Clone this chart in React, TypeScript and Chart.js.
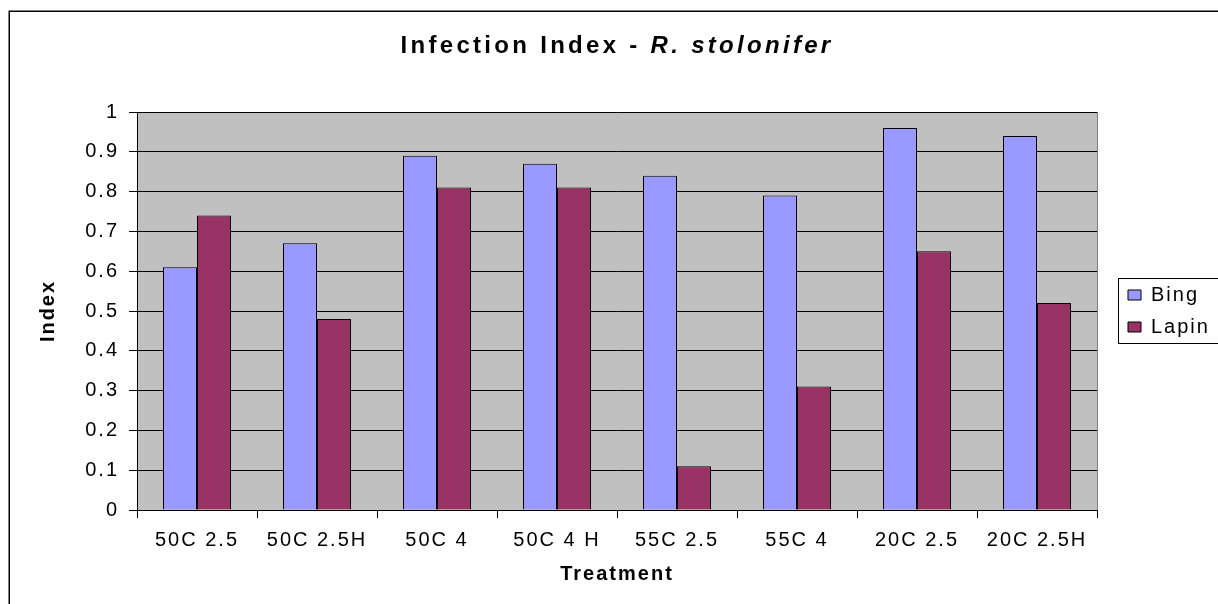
import React, { useEffect, useRef } from 'react';
import { Chart, registerables } from 'chart.js';

Chart.register(...registerables);

const FONT = "'Liberation Sans', Arial, Helvetica, sans-serif";

const TITLE_MAIN = 'Infection Index - ';
const TITLE_ITALIC = 'R. stolonifer';
const X_TITLE = 'Treatment';
const Y_TITLE = 'Index';

const CATEGORIES = ['50C 2.5', '50C 2.5H', '50C 4', '50C 4 H', '55C 2.5', '55C 4', '20C 2.5', '20C 2.5H'];
const SERIES_NAMES = ['Bing', 'Lapin'];
const BING = [0.61, 0.67, 0.89, 0.87, 0.84, 0.79, 0.96, 0.94];
const LAPIN = [0.74, 0.48, 0.81, 0.81, 0.11, 0.31, 0.65, 0.52];
const SERIES_COLORS = ['#9999FF', '#993366'];

const Y_TICKS = [0, 0.1, 0.2, 0.3, 0.4, 0.5, 0.6, 0.7, 0.8, 0.9, 1];
const Y_TICK_LABELS = ['0', '0.1', '0.2', '0.3', '0.4', '0.5', '0.6', '0.7', '0.8', '0.9', '1'];

const W = 1218;
const H = 604;
const SPACING = '2px';

const excelPlugin = {
  id: 'excelLook',
  beforeUpdate(chart: any) {
    chart.ctx.letterSpacing = SPACING;
  },
  afterLayout(chart: any) {
    const lg = chart.legend;
    const a = chart.chartArea;
    if (!lg) return;
    lg.left = a.right + 19;
    lg.right = chart.width;
    lg.width = lg.right - lg.left;
    lg.top = a.top;
    lg.bottom = a.bottom;
    lg.height = a.bottom - a.top;
  },
  beforeDraw(chart: any) {
    const { ctx, width, height, chartArea: a } = chart;
    ctx.letterSpacing = SPACING;
    ctx.save();
    ctx.fillStyle = '#ffffff';
    ctx.fillRect(0, 0, width, height);
    ctx.fillStyle = '#C0C0C0';
    ctx.fillRect(a.left, a.top, a.right - a.left, a.bottom - a.top);
    ctx.strokeStyle = '#808080';
    ctx.lineWidth = 1;
    ctx.strokeRect(a.left + 0.5, a.top + 0.5, a.right - a.left, a.bottom - a.top);
    ctx.restore();
  },
  afterDraw(chart: any) {
    const { ctx, width, height, chartArea: a } = chart;
    ctx.save();
    // outer chart border
    ctx.strokeStyle = '#000';
    ctx.lineWidth = 1.5;
    ctx.strokeRect(9.25, 11.25, width + 10, height + 10);
    // legend border
    const lg = chart.legend;
    if (lg && lg.legendHitBoxes && lg.legendHitBoxes.length) {
      const hb = lg.legendHitBoxes;
      const first = hb[0];
      const last = hb[hb.length - 1];
      const left = Math.round(first.left - 10) + 0.5;
      const top = Math.round(first.top - 7) + 0.5;
      const bottom = Math.round(last.top + last.height + 6) + 0.5;
      ctx.lineWidth = 1;
      ctx.strokeStyle = '#000';
      ctx.strokeRect(left, top, width + 10 - left, bottom - top);
    }
    // mixed-style title
    ctx.letterSpacing = '3.3px';
    ctx.fillStyle = '#000';
    ctx.textBaseline = 'middle';
    ctx.textAlign = 'left';
    const f1 = `bold 24px ${FONT}`;
    const f2 = `italic bold 24px ${FONT}`;
    ctx.font = f1;
    const w1 = ctx.measureText(TITLE_MAIN).width;
    ctx.font = f2;
    const w2 = ctx.measureText(TITLE_ITALIC).width;
    const cx = (a.left + a.right) / 2;
    const x0 = cx - (w1 + w2) / 2;
    const ty = 46;
    ctx.font = f1;
    ctx.fillText(TITLE_MAIN, x0, ty);
    ctx.font = f2;
    ctx.fillText(TITLE_ITALIC, x0 + w1, ty);
    ctx.restore();
  },
};

export default function App() {
  const canvasRef = useRef<HTMLCanvasElement | null>(null);

  useEffect(() => {
    const canvas = canvasRef.current;
    if (!canvas) return;
    Chart.defaults.font.family = FONT;
    Chart.defaults.color = '#000';

    const chart = new Chart(canvas, {
      type: 'bar',
      data: {
        labels: CATEGORIES,
        datasets: [
          {
            label: SERIES_NAMES[0],
            data: BING,
            backgroundColor: SERIES_COLORS[0],
            borderColor: '#000',
            borderWidth: 1,
            categoryPercentage: 0.5667,
            barPercentage: 1,
          },
          {
            label: SERIES_NAMES[1],
            data: LAPIN,
            backgroundColor: SERIES_COLORS[1],
            borderColor: '#000',
            borderWidth: 1,
            categoryPercentage: 0.5667,
            barPercentage: 1,
          },
        ],
      },
      options: {
        responsive: false,
        animation: false,
        devicePixelRatio: 1,
        layout: { padding: { top: 112, right: 121, bottom: 0, left: 0 } },
        plugins: {
          title: { display: false },
          tooltip: { enabled: false },
          legend: {
            display: true,
            position: 'chartArea',
            align: 'center',
            labels: {
              color: '#000',
              font: { size: 20, family: FONT },
              boxWidth: 13,
              boxHeight: 10,
              padding: 12,
            },
          },
        },
        scales: {
          x: {
            offset: true,
            grid: {
              display: true,
              offset: true,
              drawOnChartArea: false,
              drawTicks: true,
              tickLength: 8,
              color: '#000',
              lineWidth: 1,
            },
            border: { display: true, color: '#000', width: 1 },
            ticks: {
              color: '#000',
              font: { size: 20, family: FONT },
              padding: 10,
              maxRotation: 0,
              minRotation: 0,
              autoSkip: false,
            },
            title: {
              display: true,
              text: X_TITLE,
              color: '#000',
              font: { size: 20, weight: 'bold', family: FONT },
              padding: { top: 18, bottom: 18 },
            },
            afterFit: (s: any) => {
              s.height = 94;
            },
          },
          y: {
            min: 0,
            max: 1,
            grid: {
              display: true,
              drawOnChartArea: true,
              drawTicks: true,
              tickLength: 8,
              color: '#000',
              lineWidth: 1,
            },
            border: { display: true, color: '#000', width: 1 },
            afterBuildTicks: (s: any) => {
              s.ticks = Y_TICKS.map((v) => ({ value: v }));
            },
            ticks: {
              color: '#000',
              font: { size: 20, family: FONT },
              padding: 10,
              callback: (_v: any, i: number) => Y_TICK_LABELS[i],
            },
            title: {
              display: true,
              text: Y_TITLE,
              color: '#000',
              font: { size: 20, weight: 'bold', family: FONT },
              padding: { top: 36, bottom: 36 },
            },
            afterFit: (s: any) => {
              s.width = 137;
            },
          },
        },
      } as any,
      plugins: [excelPlugin],
    });

    return () => {
      chart.destroy();
    };
  }, []);

  return (
    <div style={{ position: 'fixed', left: 0, top: 0, width: W, height: H, background: '#fff' }}>
      <canvas ref={canvasRef} width={W} height={H} style={{ display: 'block' }} />
    </div>
  );
}
